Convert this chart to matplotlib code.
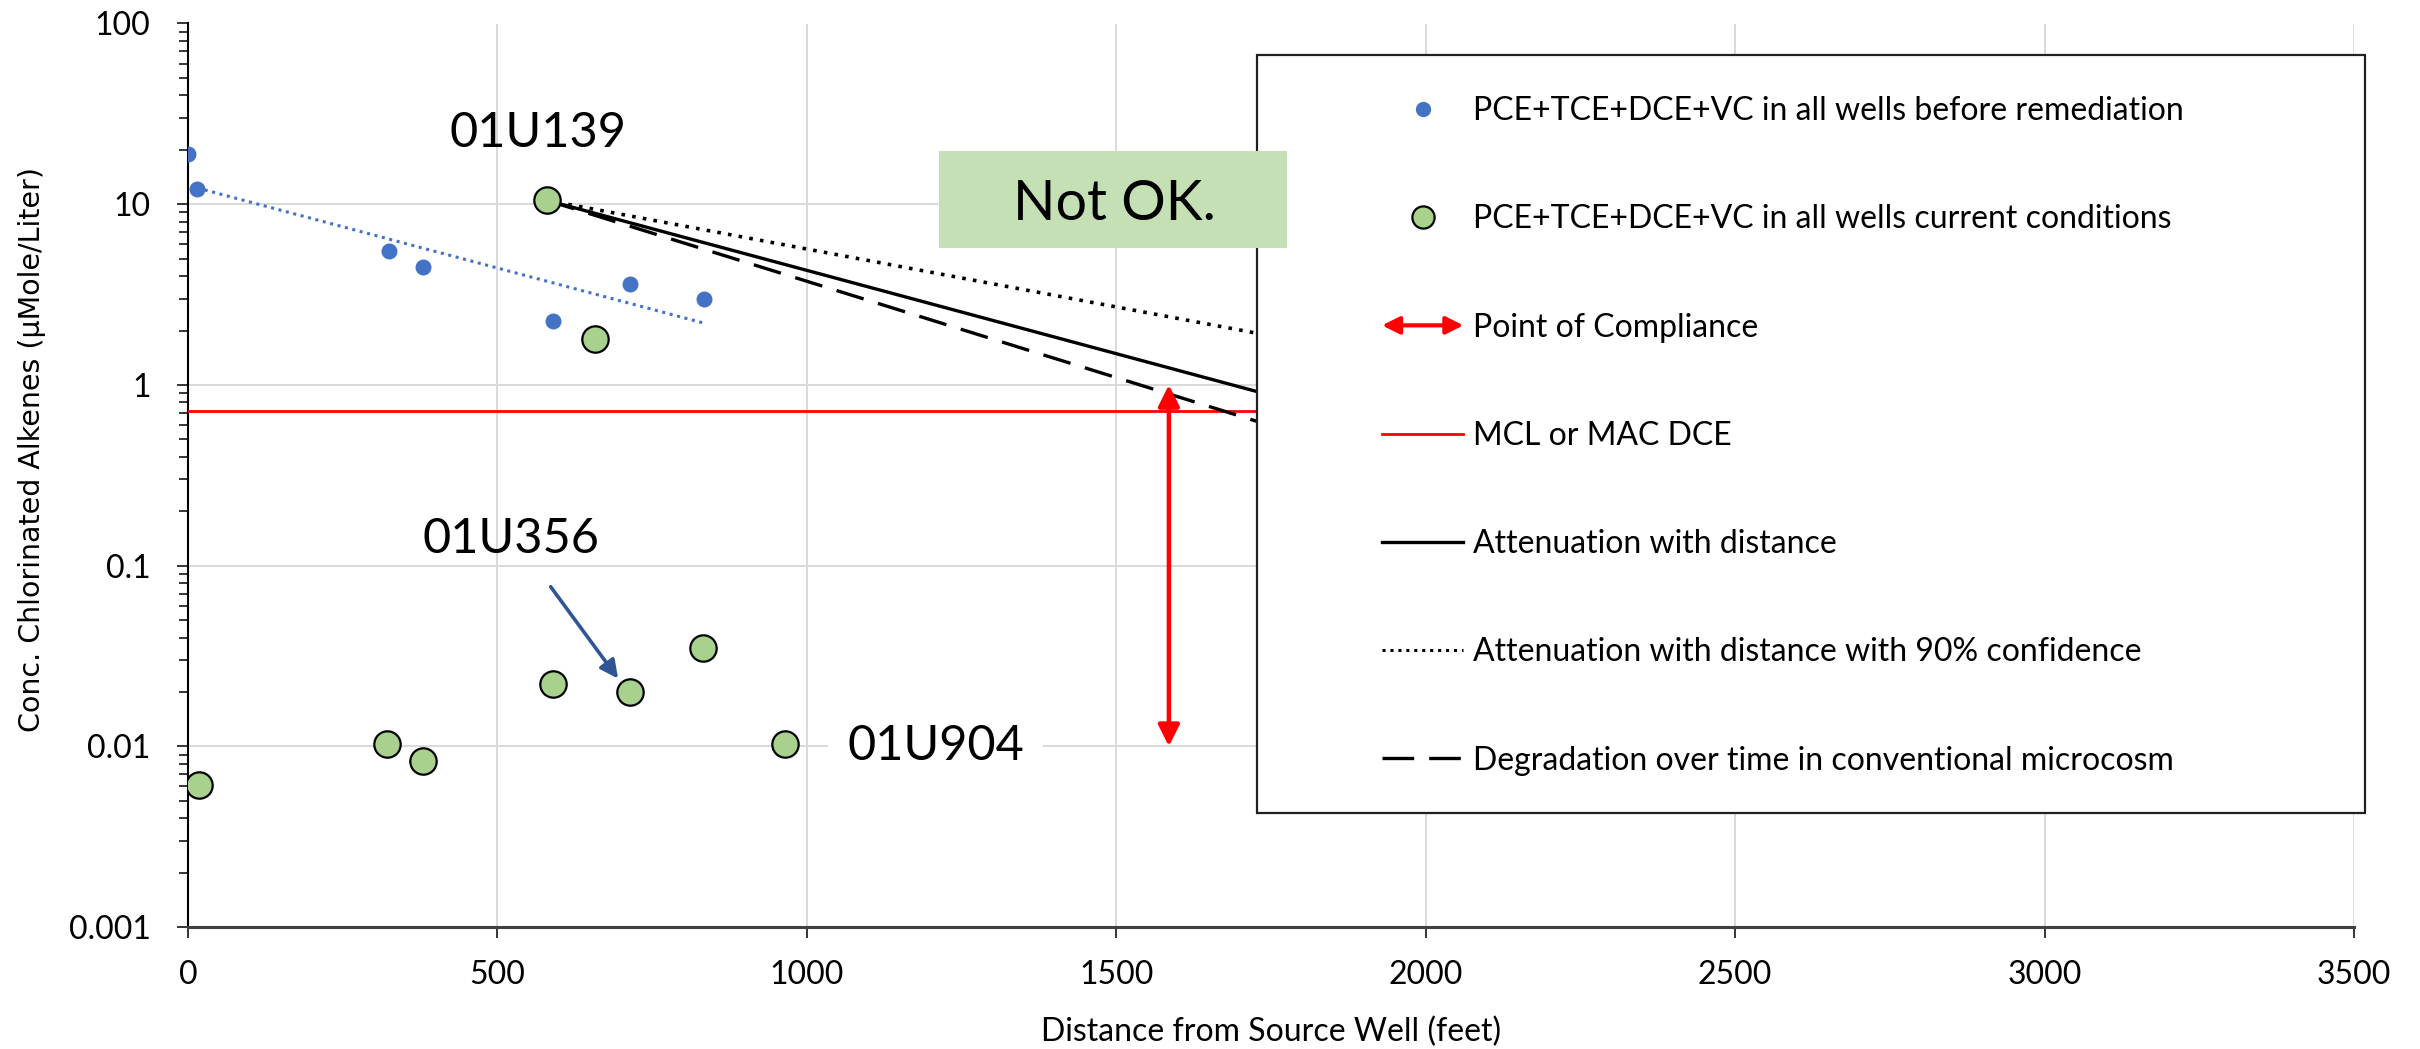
import matplotlib
matplotlib.use('Agg')
import matplotlib.pyplot as plt
from matplotlib.lines import Line2D
from matplotlib.patches import Rectangle, FancyArrowPatch
from matplotlib.legend_handler import HandlerBase
from matplotlib.ticker import LogLocator, FixedLocator, FuncFormatter, NullFormatter

plt.rcParams['font.family'] = ['Lato', 'DejaVu Sans']

# datos
dist_before = [0, 15, 325, 380, 590, 715, 833]
conc_before = [19, 12.2, 5.5, 4.5, 2.25, 3.6, 3.0]
trend_dist = [15, 833]
trend_conc = [12.3, 2.2]

dist_now = [17, 322, 379, 580, 590, 657, 714, 832, 964]
conc_now = [0.0061, 0.0103, 0.0083, 10.5, 0.022, 1.8, 0.020, 0.035, 0.0103]

atten_dist = [580, 1760]
atten_conc = [10.5, 0.857]
atten90_conc = [10.5, 1.84]
degrad_conc = [10.5, 0.58]

mcl_dce = 0.72
poc_dist = 1585
poc_conc = [0.01, 1.0]

x_ticks = [0, 500, 1000, 1500, 2000, 2500, 3000, 3500]
y_ticks = [0.001, 0.01, 0.1, 1, 10, 100]

labels = ['PCE+TCE+DCE+VC in all wells before remediation',
          'PCE+TCE+DCE+VC in all wells current conditions',
          'Point of Compliance',
          'MCL or MAC DCE',
          'Attenuation with distance',
          'Attenuation with distance with 90% confidence',
          'Degradation over time in conventional microcosm']

BLUE = '#4472C4'
GREEN = '#A9D18E'


class HandlerDoubleArrow(HandlerBase):
    def create_artists(self, legend, orig_handle, xdescent, ydescent,
                       width, height, fontsize, trans):
        y = height / 2 - ydescent
        a = FancyArrowPatch((-xdescent, y), (-xdescent + width, y),
                            arrowstyle='<|-|>', mutation_scale=26,
                            color='red', lw=3.0, shrinkA=0, shrinkB=0,
                            transform=trans)
        return [a]


fig = plt.figure(figsize=(24.2, 10.49), dpi=100)
ax = fig.add_axes([188 / 2420, 1 - 927 / 1049, 2166 / 2420, 903.5 / 1049])

ax.set_yscale('log')
ax.set_xlim(0, 3500)
ax.set_ylim(0.001, 100)

ax.plot(trend_dist, trend_conc, color=BLUE, lw=2.2, ls=(0, (1, 1.5)), zorder=3)
ax.plot(dist_before, conc_before, 'o', color=BLUE, ms=11.5, mec='none', zorder=4)

ax.axhline(mcl_dce, color='red', lw=2.0, zorder=3)
ax.plot(atten_dist, atten_conc, color='black', lw=2.4, zorder=3)
ax.plot(atten_dist, atten90_conc, color='black', lw=2.6, ls=(0, (1, 2)), zorder=3)
ax.plot(atten_dist, degrad_conc, color='black', lw=2.4, ls=(0, (8.5, 4.5)), zorder=3)

ax.plot(dist_now, conc_now, 'o', color=GREEN, ms=19, mec='black', mew=1.6, zorder=5)

ax.annotate('', xy=(poc_dist, poc_conc[0]), xytext=(poc_dist, poc_conc[1]),
            arrowprops=dict(arrowstyle='<|-|>', color='red', lw=3.2,
                            mutation_scale=32, shrinkA=0, shrinkB=0), zorder=4)

ax.annotate('', xy=(695, 0.0237), xytext=(586, 0.0764),
            arrowprops=dict(arrowstyle='-|>', color='#2F5597', lw=2.6,
                            mutation_scale=27, shrinkA=0, shrinkB=0), zorder=4)

ax.text(566, 20.7, '01U139', fontsize=35, ha='center', va='baseline', zorder=6)
ax.text(522, 0.1178, '01U356', fontsize=35, ha='center', va='baseline', zorder=6)
ax.text(1208, 0.00843, '01U904', fontsize=35, ha='center', va='baseline', zorder=6,
        bbox=dict(boxstyle='square,pad=0.4', fc='white', ec='none'))

# ejes
ax.xaxis.set_major_locator(FixedLocator(x_ticks))
ax.yaxis.set_major_locator(FixedLocator(y_ticks))
ax.yaxis.set_minor_locator(LogLocator(base=10, subs=range(2, 10), numticks=20))
ax.yaxis.set_major_formatter(FuncFormatter(lambda v, p: '{:g}'.format(v)))
ax.yaxis.set_minor_formatter(NullFormatter())
ax.tick_params(axis='y', which='major', direction='out', length=8, width=1.1,
               labelsize=23, pad=19)
ax.tick_params(axis='y', which='minor', direction='out', length=6.5, width=1.1)
ax.tick_params(axis='x', which='major', direction='out', length=8, width=1.1,
               labelsize=23, pad=16)
ax.grid(True, which='major', color='#D9D9D9', lw=1.4, zorder=0)
ax.set_axisbelow(True)
for s in ['top', 'right']:
    ax.spines[s].set_visible(False)
ax.spines['left'].set_linewidth(1.5)
ax.spines['left'].set_color('black')
ax.spines['bottom'].set_linewidth(2.2)
ax.spines['bottom'].set_color('#404040')

ax.set_xlabel('Distance from Source Well (feet)', fontsize=23, va='baseline')
ax.xaxis.set_label_coords(0.5, -0.1262)
ax.set_ylabel('Conc. Chlorinated Alkenes (\u00b5Mole/Liter)', fontsize=20.5,
              family='DejaVu Sans', va='center')
ax.yaxis.set_label_coords(-0.072, 0.529)

# leyenda
leg_box = Rectangle((1257 / 2420, 1 - 813 / 1049), 1108 / 2420, 758 / 1049,
                    transform=fig.transFigure, fc='white', ec='#202020', lw=1.6,
                    clip_on=False, zorder=6)
ax.add_patch(leg_box)

arrow_proxy = FancyArrowPatch((0, 0), (1, 0))
handles = [
    Line2D([], [], ls='none', marker='o', ms=11, color=BLUE, mec='none'),
    Line2D([], [], ls='none', marker='o', ms=16, color=GREEN, mec='black', mew=1.6),
    arrow_proxy,
    Line2D([], [], color='red', lw=2.0),
    Line2D([], [], color='black', lw=2.4),
    Line2D([], [], color='black', lw=2.2, ls=(0, (1, 1.6))),
    Line2D([], [], color='black', lw=2.4, ls=(0, (9.5, 4.5))),
]
leg = ax.legend(handles, labels, loc='upper left',
                bbox_to_anchor=(1382 / 2420, 1 - 96 / 1049),
                bbox_transform=fig.transFigure, frameon=False, fontsize=23,
                borderpad=0, borderaxespad=0, handlelength=2.55,
                handletextpad=0.3, labelspacing=2.45,
                handler_map={FancyArrowPatch: HandlerDoubleArrow()})
leg.set_zorder(7)

# cuadro "Not OK."
ax.add_patch(Rectangle((939 / 2420, 1 - 248 / 1049), 348 / 2420, 97 / 1049,
                       transform=fig.transFigure, fc='#C5E0B4', ec='none',
                       clip_on=False, zorder=8))
ax.text(1114 / 2420, 1 - 220 / 1049, 'Not OK.', transform=fig.transFigure,
        fontsize=40, ha='center', va='baseline', zorder=9)

fig.savefig('out.png', dpi=100)
